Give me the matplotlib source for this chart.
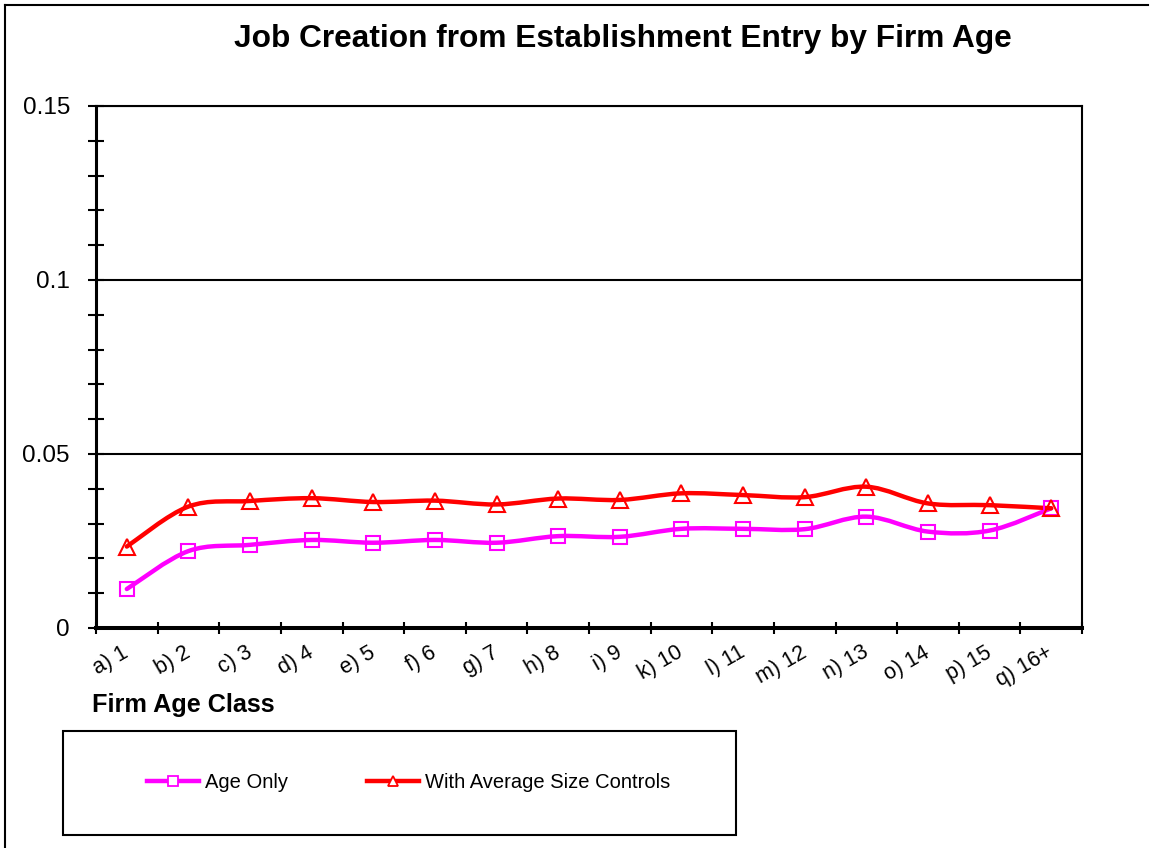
import numpy as np
import matplotlib
matplotlib.use("Agg")
import matplotlib.pyplot as plt
from matplotlib.path import Path
from matplotlib.patches import PathPatch, Rectangle
from matplotlib.lines import Line2D
from matplotlib.ticker import FixedLocator, FuncFormatter
from matplotlib.transforms import ScaledTranslation

plt.rcParams['font.family'] = ['Liberation Sans', 'DejaVu Sans']

categories = ["a) 1", "b) 2", "c) 3", "d) 4", "e) 5", "f) 6", "g) 7", "h) 8", "i) 9",
              "k) 10", "l) 11", "m) 12", "n) 13", "o) 14", "p) 15", "q) 16+"]
age_only = [0.0112, 0.0221, 0.0239, 0.0253, 0.0245, 0.0253, 0.0245, 0.0264, 0.0262,
            0.0285, 0.0285, 0.0284, 0.0320, 0.0277, 0.0280, 0.0344]
size_controls = [0.0234, 0.0349, 0.0365, 0.0373, 0.0362, 0.0366, 0.0355, 0.0372, 0.0368,
                 0.0387, 0.0382, 0.0376, 0.0406, 0.0358, 0.0353, 0.0344]

W, H = 1153, 848
fig = plt.figure(figsize=(W / 100, H / 100), dpi=100)
ax = fig.add_axes([96 / W, 1 - 628 / H, (1082 - 96) / W, (628 - 106) / H])

x = np.arange(len(categories))


def smooth_path(xs, ys):
    # excel-like smoothed line: bezier segments through the points
    pts = np.column_stack([xs, ys]).astype(float)
    ext = np.vstack([pts[0], pts, pts[-1]])
    verts = [pts[0]]
    codes = [Path.MOVETO]
    for i in range(len(pts) - 1):
        p0, p1, p2, p3 = ext[i], ext[i + 1], ext[i + 2], ext[i + 3]
        verts += [p1 + (p2 - p0) / 6, p2 - (p3 - p1) / 6, p2]
        codes += [Path.CURVE4] * 3
    return Path(verts, codes)


series = [
    ("Age Only", age_only, "#FF00FF", "s", 10),
    ("With Average Size Controls", size_controls, "#FF0000", "^", 12),
]
handles = []
for label, vals, col, mk, ms in series:
    ax.add_patch(PathPatch(smooth_path(x, vals), fill=False, edgecolor=col, lw=3.2,
                           capstyle='round', zorder=3))
    ax.plot(x, vals, linestyle='none', marker=mk, ms=ms, mfc='none', mec=col, mew=1.5, zorder=4)
    handles.append(Line2D([], [], color=col, lw=3.2, marker=mk, ms=7.5, mfc='white',
                          mec=col, mew=1.3, label=label))

ax.set_xlim(-0.5, len(categories) - 0.5)
ax.set_ylim(0, 0.15)

ax.xaxis.set_major_locator(FixedLocator(np.arange(-0.5, len(categories), 1.0)))
ax.xaxis.set_major_formatter(FuncFormatter(lambda v, p: ""))
ax.xaxis.set_minor_locator(FixedLocator(x))
ax.set_xticklabels(categories, minor=True)
ax.tick_params(axis='x', which='major', direction='inout', length=8.6, width=1.5)
ax.tick_params(axis='x', which='minor', length=0, pad=10, labelsize=15.5)
shift = ScaledTranslation(-5 / 100, 0, fig.dpi_scale_trans)
for t in ax.get_xticklabels(minor=True):
    t.set_rotation(30)
    t.set_ha('right')
    t.set_va('top')
    t.set_rotation_mode('anchor')
    t.set_transform(t.get_transform() + shift)

ax.yaxis.set_major_locator(FixedLocator([0, 0.05, 0.1, 0.15]))
ax.yaxis.set_minor_locator(FixedLocator(np.arange(0.01, 0.15, 0.01)))
ax.yaxis.set_major_formatter(FuncFormatter(lambda v, p: f"{round(v, 4):g}"))
ax.tick_params(axis='y', which='major', direction='inout', length=11.5, width=1.5,
               pad=13, labelsize=17.5)
ax.tick_params(axis='y', which='minor', direction='inout', length=11.5, width=1.5)

ax.grid(True, axis='y', which='major', color='black', lw=1.5)
ax.spines['left'].set_linewidth(2.2)
ax.spines['bottom'].set_linewidth(2.9)
ax.spines['right'].set_linewidth(1.5)
ax.spines['top'].set_linewidth(1.5)
ax.set_axisbelow(False)

fig.text(623 / W, 1 - 47 / H, "Job Creation from Establishment Entry by Firm Age",
         ha='center', va='baseline', fontsize=22.8, fontweight='bold')
fig.text(92 / W, 1 - 712 / H, "Firm Age Class", ha='left', va='baseline',
         fontsize=18.2, fontweight='bold')

# outer chart frame (left and top edges visible)
fig.add_artist(Line2D([5 / W, 5 / W], [0, 1 - 5 / H], color='black', lw=1.5))
fig.add_artist(Line2D([5 / W, 1148 / W], [1 - 5 / H, 1 - 5 / H], color='black', lw=1.5))

# legend box
lx0, ly0, lx1, ly1 = 63, 731, 736, 835
fig.add_artist(Rectangle((lx0 / W, 1 - ly1 / H), (lx1 - lx0) / W, (ly1 - ly0) / H,
                         fill=False, edgecolor='black', lw=1.5, transform=fig.transFigure))
fig.legend(handles=handles, loc='center', ncol=2, frameon=False, fontsize=14.5,
           bbox_to_anchor=((lx0 + 9) / W, 1 - ly1 / H, (lx1 - lx0) / W, (ly1 - ly0) / H),
           handlelength=2.6, handletextpad=0.3, columnspacing=3.9)

fig.savefig("out.png", dpi=100)
